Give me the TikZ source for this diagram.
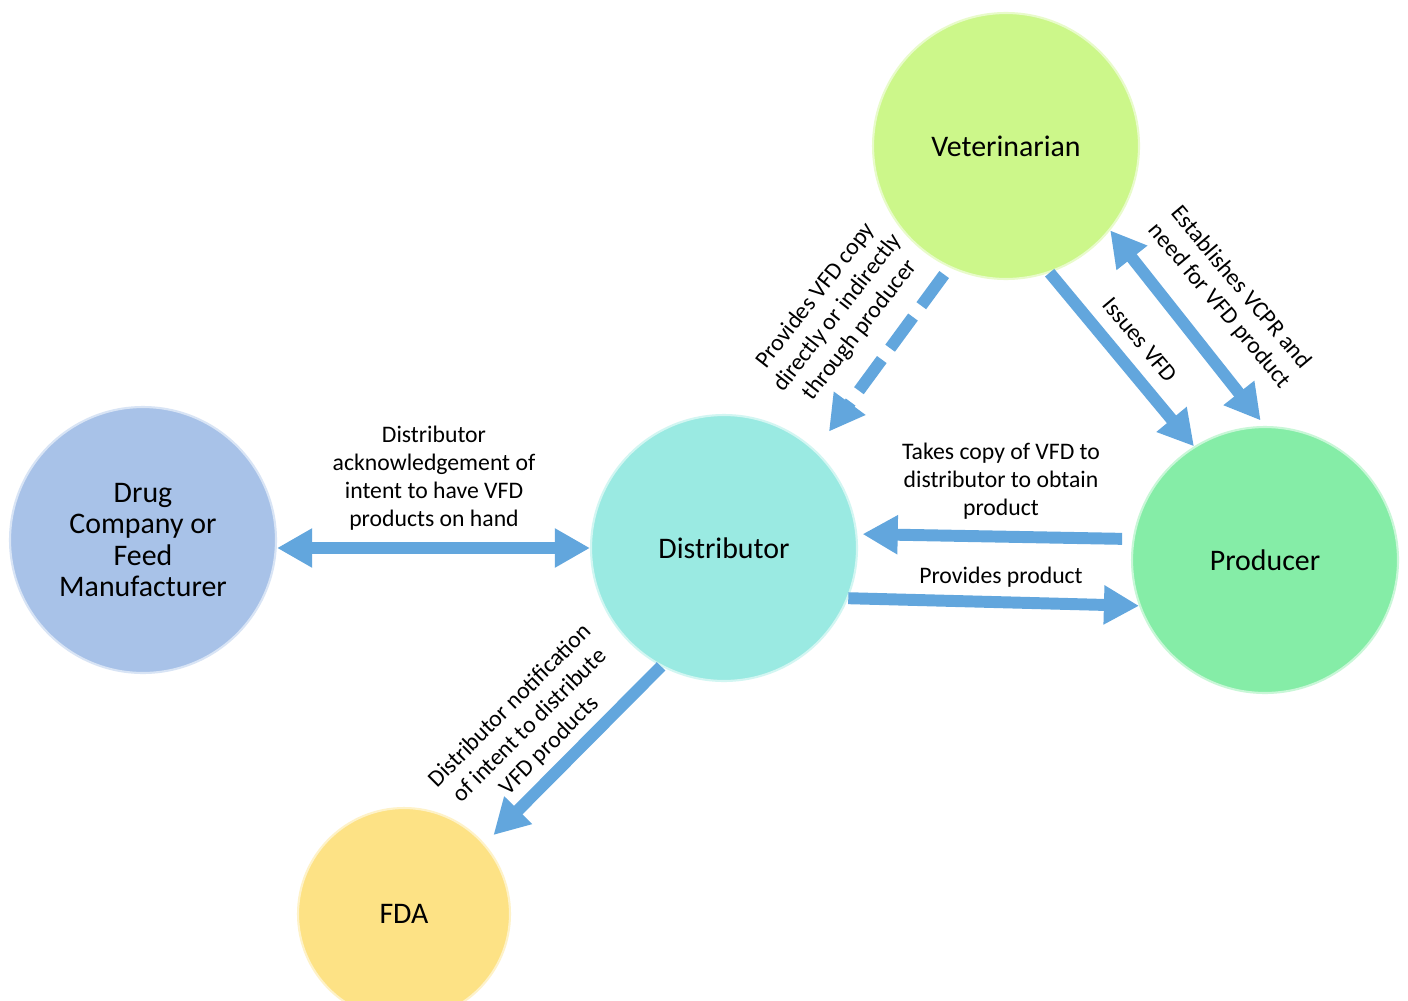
\documentclass[tikz,border=0pt]{standalone}
\usepackage{fontspec}
\setmainfont{Carlito}
\usetikzlibrary{arrows.meta}
\definecolor{vetgreen}{RGB}{204,247,138}
\definecolor{distcyan}{RGB}{154,234,226}
\definecolor{prodgreen}{RGB}{133,237,167}
\definecolor{drugblue}{RGB}{168,194,232}
\definecolor{fdayellow}{RGB}{253,226,133}
\definecolor{flowblue}{RGB}{98,166,221}
\begin{document}
\begin{tikzpicture}[x=0.02cm, y=-0.02cm,
    actor/.style={circle, fill=#1, draw=#1!45!white, line width=1.2pt,
        minimum size=5.32cm, inner sep=0pt, align=center,
        font=\fontsize{17}{18}\selectfont},
    flow/.style={draw=flowblue, line width=6.8pt,
        -{Triangle[length=20pt,width=21pt]}},
    twoway/.style={flow, {Triangle[length=20pt,width=21pt]}-{Triangle[length=20pt,width=21pt]}},
    note/.style={align=center, inner sep=0pt,
        font=\fontsize{13.5}{16}\selectfont}]

        % Page frame
        \fill[white] (0,0) rectangle (1408,1000);
        \clip (0,0) rectangle (1408,1000);

        % The five parties
        \node[actor=vetgreen] (vet) at (1006,146) {Veterinarian};
        \node[actor=distcyan] (dist) at (724,548) {Distributor};
        \node[actor=prodgreen] (prod) at (1265,560) {Producer};
        \node[actor=drugblue] (drug) at (143,540) {Drug\\Company or\\Feed\\Manufacturer};
        \node[actor=fdayellow, minimum size=4.24cm] (fda) at (404,914) {FDA};

        % Flows between them
        \draw[twoway] (drug.east |- dist.west) -- (dist.west);
        \draw[flow, dash pattern=on 22pt off 8pt, shorten <=5pt, shorten >=13pt] (vet.245) -- (dist.47);
        \draw[flow] (vet.289) -- (prod.122);
        \draw[twoway, shorten >=4pt] (vet.-39) -- (prod.north);
        \draw[flow, shorten <=6pt, shorten >=3pt] (prod.171) -- (dist.6);
        \draw[flow] (dist.-22) -- (prod.200);
        \draw[flow, shorten >=7pt] (dist.242) -- (fda.41);

        % Labels on the flows
        \node[note] (acknote) at (434,478) {Distributor\\acknowledgement of\\intent to have VFD\\products on hand};
        \node[note, rotate=52] (copynote) at (838,313) {Provides VFD copy\\directly or indirectly\\through producer};
        \node[note, rotate=-50] (issuenote) at (1140,340) {Issues VFD};
        \node[note, rotate=-50] (vcprnote) at (1230,297) {Establishes VCPR and\\need for VFD product};
        \node[note] (takenote) at (1001,481) {Takes copy of VFD to\\distributor to obtain\\product};
        \node[note] (provnote) at (1001,577) {Provides product};
        \node[note, rotate=45] (fdanote) at (530,726) {Distributor notification\\of intent to distribute\\VFD products};
    \end{tikzpicture}
\end{document}
